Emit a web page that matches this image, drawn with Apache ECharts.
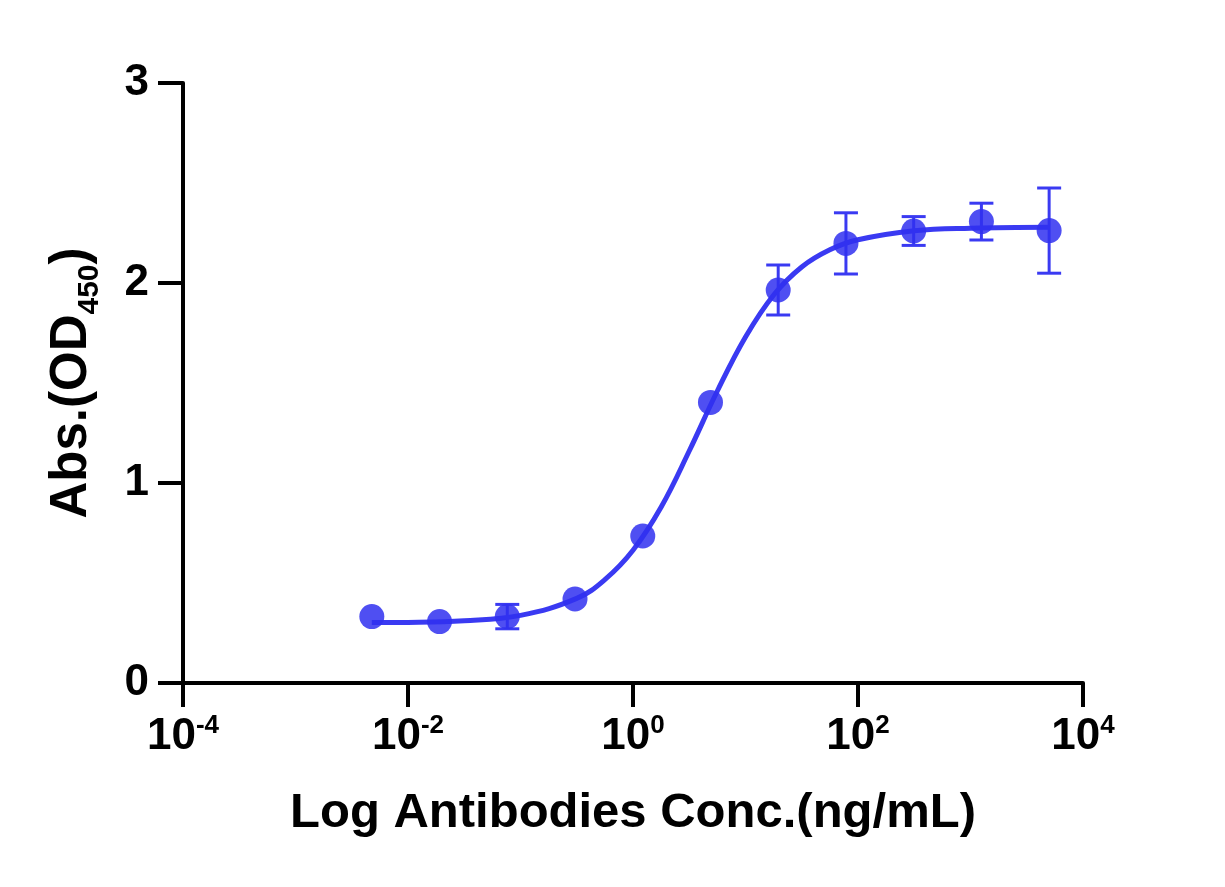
<!DOCTYPE html>
<html>
<head>
<meta charset="utf-8">
<script src="https://cdn.jsdelivr.net/npm/echarts@6/dist/echarts.min.js"></script>
<style>
  html, body { margin: 0; padding: 0; background: #fff; }
  #main { width: 1225px; height: 887px; }
</style>
</head>
<body>
<div id="main"></div>
<script>
// measured points (4-fold dilution series, ng/mL)
var concentrations = [0.004768, 0.01907, 0.07629, 0.3052, 1.221, 4.883, 19.53, 78.13, 312.5, 1250, 5000];
var absMean = [0.332, 0.307, 0.332, 0.42, 0.735, 1.403, 1.965, 2.198, 2.26, 2.307, 2.262];
var absErr = [0, 0, 0.061, 0, 0, 0, 0.125, 0.153, 0.072, 0.092, 0.213];

// fitted curve
var fitX = [0.004768, 0.01, 0.0316, 0.1, 0.316, 0.562, 1, 1.78, 3.16, 5.62, 10, 17.8, 31.6, 56.2, 100, 316, 1000, 5000];
var fitY = [0.302, 0.303, 0.311, 0.338, 0.423, 0.517, 0.664, 0.88, 1.16, 1.46, 1.73, 1.94, 2.08, 2.166, 2.216, 2.261, 2.274, 2.279];

var yTicks = [0, 1, 2, 3];

var FONT = '"Liberation Sans", Arial, sans-serif';
var BLUE = '#3a3af2';

function chart(){
  var myChart = echarts.init(document.getElementById('main'));

  var points = concentrations.map(function(c, i){ return [c, absMean[i]]; });
  var bars = concentrations.map(function(c, i){ return [c, absMean[i], absErr[i]]; });
  var curve = fitX.map(function(x, i){ return [x, fitY[i]]; });

  var option = {
    animation: false,
    grid: { left: 183, right: 142, top: 83, bottom: 204 },
    xAxis: {
      type: 'log',
      logBase: 10,
      min: 0.0001,
      max: 10000,
      interval: 2,
      name: 'Log Antibodies Conc.(ng/mL)',
      nameLocation: 'middle',
      nameGap: 106,
      nameTextStyle: { fontFamily: FONT, fontWeight: 'bold', fontSize: 49, color: '#000' },
      axisLine: { lineStyle: { color: '#000', width: 4 } },
      axisTick: { length: 24, lineStyle: { color: '#000', width: 4 } },
      splitLine: { show: false },
      minorTick: { show: false },
      axisLabel: {
        margin: 30,
        formatter: function(v){
          var e = Math.round(Math.log10(v));
          if (e % 2 !== 0) return '';
          return '{b|10}{s|' + e + '}';
        },
        rich: {
          b: { fontFamily: FONT, fontWeight: 'bold', fontSize: 44, color: '#000', lineHeight: 48, verticalAlign: 'middle' },
          s: { fontFamily: FONT, fontWeight: 'bold', fontSize: 26, color: '#000', lineHeight: 26, verticalAlign: 'top' }
        }
      }
    },
    yAxis: {
      type: 'value',
      min: 0,
      max: 3,
      interval: 1,
      name: '{m|Abs.(OD}{s|450}{m|)}',
      nameLocation: 'middle',
      nameRotate: 90,
      nameGap: 78,
      nameTextStyle: {
        rich: {
          m: { fontFamily: FONT, fontWeight: 'bold', fontSize: 51, color: '#000', lineHeight: 54, verticalAlign: 'middle' },
          s: { fontFamily: FONT, fontWeight: 'bold', fontSize: 30, color: '#000', lineHeight: 66, verticalAlign: 'bottom' }
        }
      },
      axisLine: { show: true, lineStyle: { color: '#000', width: 4 } },
      axisTick: { show: true, length: 25, lineStyle: { color: '#000', width: 4 } },
      splitLine: { show: false },
      axisLabel: {
        margin: 34,
        fontFamily: FONT, fontWeight: 'bold', fontSize: 44, color: '#000',
        formatter: function(v){ return yTicks.indexOf(v) >= 0 ? String(v) : ''; }
      }
    },
    series: [
      {
        name: 'Fit',
        type: 'line',
        data: curve,
        smooth: 0.4,
        showSymbol: false,
        lineStyle: { color: BLUE, width: 5 },
        z: 2
      },
      {
        name: 'Error',
        type: 'custom',
        data: bars,
        encode: { x: 0, y: 1 },
        z: 3,
        renderItem: function(params, api){
          var e = api.value(2);
          if (!e) return null;
          var x = api.value(0), y = api.value(1);
          var lo = api.coord([x, y - e]);
          var hi = api.coord([x, y + e]);
          var w = 12;
          var style = { stroke: BLUE, lineWidth: 3 };
          return {
            type: 'group',
            children: [
              { type: 'line', shape: { x1: lo[0], y1: lo[1], x2: hi[0], y2: hi[1] }, style: style },
              { type: 'line', shape: { x1: lo[0] - w, y1: lo[1], x2: lo[0] + w, y2: lo[1] }, style: style },
              { type: 'line', shape: { x1: hi[0] - w, y1: hi[1], x2: hi[0] + w, y2: hi[1] }, style: style }
            ]
          };
        }
      },
      {
        name: 'Abs',
        type: 'scatter',
        data: points,
        symbol: 'circle',
        symbolSize: 25,
        itemStyle: { color: '#3030f0', opacity: 0.85 },
        z: 4
      }
    ]
  };

  option && myChart.setOption(option);
}

window.onload = function(){
  chart();
};
</script>
</body>
</html>
